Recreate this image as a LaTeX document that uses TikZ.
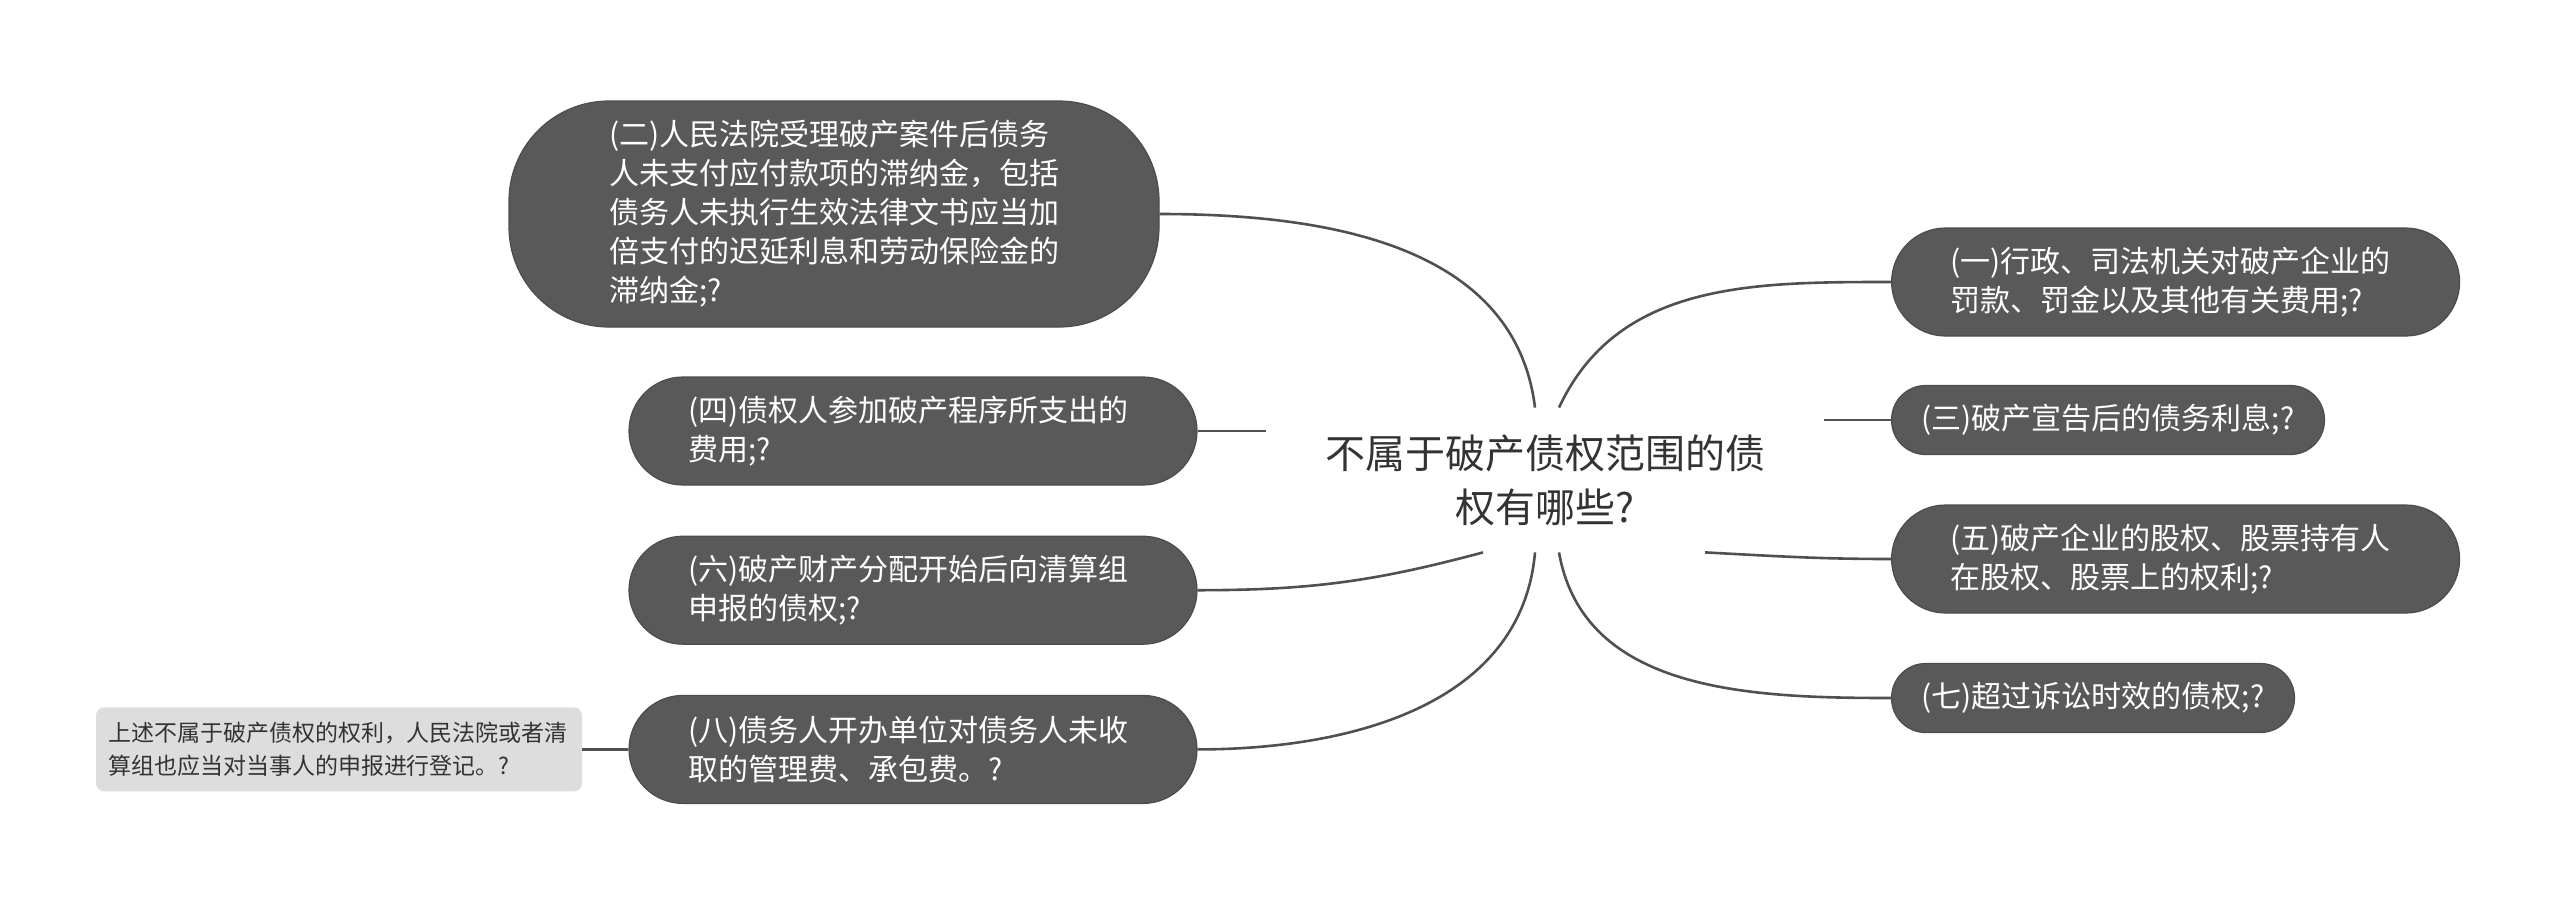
\documentclass[tikz,border=0pt]{standalone}
\usepackage{fontspec}
\setmainfont{Noto Sans CJK SC}
\usetikzlibrary{positioning}
\definecolor{MapBox}{HTML}{595959}
\definecolor{MapLine}{HTML}{505050}
\definecolor{MapNote}{HTML}{DDDDDD}
\definecolor{MapText}{HTML}{333333}

\begin{document}
\begin{tikzpicture}[x=0.5pt,y=-0.5pt,
    leaf/.style={fill=MapBox,draw=MapBox!85!black,line width=0.6pt,text=white,align=left,
      font=\fontsize{15pt}{19.5pt}\selectfont,inner ysep=0pt},
    pill/.style={leaf,text width=225pt,inner xsep=29.5pt,minimum height=54pt,rounded corners=27pt},
    slim/.style={leaf,inner xsep=15pt,minimum height=34.5pt,rounded corners=17pt},
    link/.style={draw=MapLine,line width=1.3pt}]
  \useasboundingbox (0,0) rectangle (2560,901);
  % centre topic
  \node[font=\fontsize{20pt}{27pt}\selectfont,text=MapText,align=center,
        minimum width=279pt,minimum height=72pt] (root) at (1545,480)
        {不属于破产债权范围的债\\权有哪些?};
  % left branches
  \node[leaf,text width=225pt,inner xsep=50pt,minimum height=113pt,rounded corners=50pt] (late) at (834,214)
        {(二)人民法院受理破产案件后债务\\人未支付应付款项的滞纳金，包括\\债务人未执行生效法律文书应当加\\倍支付的迟延利息和劳动保险金的\\滞纳金;?};
  \node[pill] (cost) at (913,431) {(四)债权人参加破产程序所支出的\\费用;?};
  \node[pill,below=25pt of cost] (dist) {(六)破产财产分配开始后向清算组\\申报的债权;?};
  \node[pill,below=25pt of dist] (mgmt) {(八)债务人开办单位对债务人未收\\取的管理费、承包费。?};
  \node[fill=MapNote,text=MapText,align=left,font=\fontsize{11.5pt}{16.5pt}\selectfont,
        text width=231pt,inner xsep=6pt,minimum height=42pt,rounded corners=4pt,
        left=23pt of mgmt] (note)
        {上述不属于破产债权的权利，人民法院或者清\\算组也应当对当事人的申报进行登记。?};
  % right branches
  \node[pill,anchor=west] (fine) at (1891,282) {(一)行政、司法机关对破产企业的\\罚款、罚金以及其他有关费用;?};
  \node[slim,anchor=west] (interest) at (1891,420) {(三)破产宣告后的债务利息;?};
  \node[pill,anchor=west] (share) at (1891,559) {(五)破产企业的股权、股票持有人\\在股权、股票上的权利;?};
  \node[slim,anchor=west] (expire) at (1891,698) {(七)超过诉讼时效的债权;?};
  % connectors
  \draw[link] ([xshift=-5pt]root.north) to[out=97,in=0] (late.east);
  \draw[link] (root.west |- cost.east) -- (cost.east);
  \draw[link] ([xshift=-31pt]root.south) to[out=195,in=0] (dist.east);
  \draw[link] ([xshift=-5pt]root.south) to[out=-95,in=0] (mgmt.east);
  \draw[link] (mgmt.west) -- (note.east);
  \draw[link] ([xshift=7pt]root.north) to[out=65,in=180] (fine.west);
  \draw[link] (root.east |- interest.west) -- (interest.west);
  \draw[link] ([xshift=80pt]root.south) to[out=-3,in=180] (share.west);
  \draw[link] ([xshift=7pt]root.south) to[out=-80,in=180] (expire.west);
\end{tikzpicture}
\end{document}
